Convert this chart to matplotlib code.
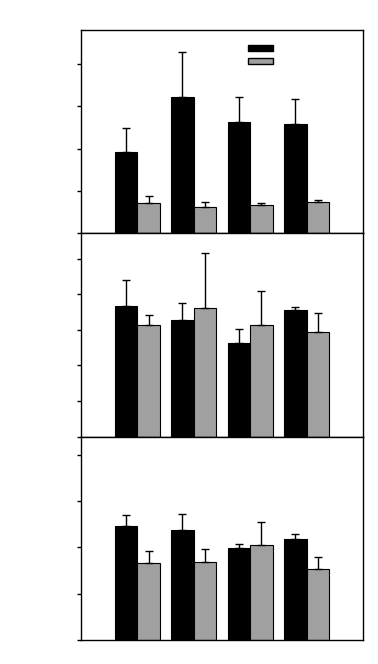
import numpy as np
import matplotlib
matplotlib.use('Agg')
import matplotlib.pyplot as plt
from matplotlib.patches import Patch

groups = [1, 2, 3, 4]

# panel 1
top_black = [1.92, 3.23, 2.64, 2.57]
top_black_err = [0.57, 1.05, 0.58, 0.60]
top_gray = [0.71, 0.63, 0.66, 0.73]
top_gray_err = [0.18, 0.10, 0.05, 0.06]

# panel 2
mid_black = [3.66, 3.27, 2.62, 3.57]
mid_black_err = [0.75, 0.49, 0.41, 0.08]
mid_gray = [3.15, 3.60, 3.15, 2.95]
mid_gray_err = [0.28, 1.57, 0.95, 0.51]

# panel 3
bot_black = [2.46, 2.38, 1.99, 2.18]
bot_black_err = [0.24, 0.34, 0.09, 0.11]
bot_gray = [1.66, 1.68, 2.05, 1.53]
bot_gray_err = [0.26, 0.28, 0.50, 0.26]

panels = [
    (top_black, top_black_err, top_gray, top_gray_err, 4.8, [0, 1, 2, 3, 4]),
    (mid_black, mid_black_err, mid_gray, mid_gray_err, 5.71, [0, 1, 2, 3, 4, 5]),
    (bot_black, bot_black_err, bot_gray, bot_gray_err, 4.39, [0, 1, 2, 3, 4]),
]

GRAY = '#a0a0a0'
w = 0.4

fig, axes = plt.subplots(3, 1, figsize=(3.78, 6.64), dpi=100)
fig.subplots_adjust(left=0.2143, right=0.960, top=0.9548, bottom=0.0361, hspace=0)

x = np.array(groups)
for ax, (b, be, g, ge, ymax, ticks) in zip(axes, panels):
    ax.bar(x - w / 2, b, w, color='black', edgecolor='black', linewidth=0.8,
           yerr=[np.zeros(4), be], error_kw=dict(ecolor='black', elinewidth=1, capsize=3, capthick=1))
    ax.bar(x + w / 2, g, w, color=GRAY, edgecolor='black', linewidth=0.8,
           yerr=[np.zeros(4), ge], error_kw=dict(ecolor='black', elinewidth=1, capsize=3, capthick=1))
    ax.set_xlim(0, 5)
    ax.set_ylim(0, ymax)
    ax.set_yticks(ticks)
    ax.set_yticklabels([])
    ax.set_xticks([])
    ax.tick_params(axis='y', direction='out', length=3, width=1)
    for s in ax.spines.values():
        s.set_linewidth(1)

handles = [Patch(facecolor='black', edgecolor='black'),
           Patch(facecolor=GRAY, edgecolor='black')]
axes[0].legend(handles, ['', ''], frameon=False, fontsize=8,
               handlelength=2.25, handleheight=0.5, labelspacing=0.25,
               loc='upper left', bbox_to_anchor=(0.565, 0.97), borderpad=0.2)

fig.savefig('out.png', dpi=100)
